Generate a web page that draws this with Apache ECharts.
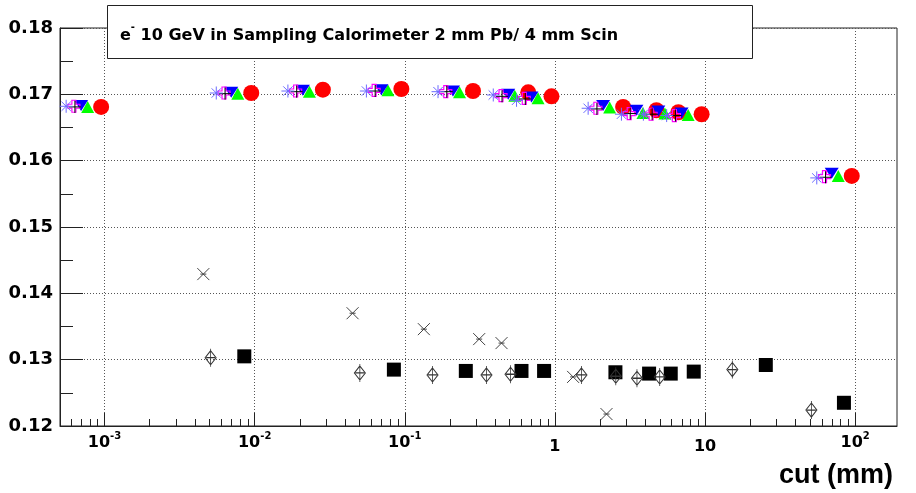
<!DOCTYPE html>
<html>
<head>
<meta charset="utf-8">
<script src="https://cdn.jsdelivr.net/npm/echarts@6/dist/echarts.min.js"></script>
<style>
html,body{margin:0;padding:0;background:#fff;}
#chart{width:916px;height:493px;}
</style>
</head>
<body>
<div id="chart"></div>
<script>
// ---------- data ----------
const titleText = ['e', '-', ' 10 GeV in Sampling Calorimeter 2 mm Pb/ 4 mm Scin'];
const xAxisTitle = 'cut (mm)';

const xMajorTicks = [0.001, 0.01, 0.1, 1, 10, 100];
const xTickLabels = ['10{s|-3}', '10{s|-2}', '10{s|-1}', '{b|1}', '{b|10}', '10{s|2}'];
const yTicks = [0.12, 0.13, 0.14, 0.15, 0.16, 0.17, 0.18];

// upper group (six series)
const xStar    = [0.000555, 0.00555, 0.01665, 0.0555, 0.1665, 0.3885, 0.555, 1.665, 2.775, 3.885, 5.55, 55.5];
const yStar    = [0.1682, 0.1702, 0.1705, 0.1705, 0.1704, 0.1699, 0.1691, 0.1679, 0.1670, 0.1670, 0.1668, 0.1574];
const xPlus    = [0.000635, 0.00635, 0.01905, 0.0635, 0.1905, 0.4445, 0.635, 1.905, 3.175, 4.445, 6.35, 63.5];
const yPlus    = [0.1681, 0.1701, 0.1704, 0.1705, 0.1704, 0.1697, 0.1693, 0.1678, 0.1671, 0.1670, 0.1668, 0.1575];
const xOpenX   = [0.000625, 0.00625, 0.01875, 0.0625, 0.1875, 0.4375, 0.625, 1.875, 3.125, 4.375, 6.25, 62.5];
const yOpenX   = [0.1682, 0.1702, 0.1705, 0.1706, 0.1704, 0.1698, 0.1694, 0.1679, 0.1671, 0.1670, 0.1668, 0.1576];
const xBlue    = [0.000698, 0.00698, 0.02094, 0.0698, 0.2094, 0.4886, 0.698, 2.094, 3.49, 4.886, 6.98, 69.8];
const yBlue    = [0.1683, 0.1703, 0.1706, 0.1707, 0.1705, 0.1700, 0.1696, 0.1683, 0.1676, 0.1675, 0.1672, 0.1581];
const xGreen   = [0.000772, 0.00772, 0.02316, 0.0772, 0.2316, 0.5404, 0.772, 2.316, 3.86, 5.404, 7.72, 77.2];
const yGreen   = [0.1681, 0.1701, 0.1704, 0.1706, 0.1703, 0.1698, 0.1694, 0.1680, 0.1672, 0.1671, 0.1669, 0.1577];
const xRed     = [0.000949, 0.00949, 0.02847, 0.0949, 0.2847, 0.6643, 0.949, 2.847, 4.745, 6.643, 9.49, 94.9];
const yRed     = [0.1681, 0.1702, 0.1707, 0.1708, 0.1705, 0.1703, 0.1697, 0.1681, 0.1676, 0.1673, 0.1670, 0.1577];

// lower group (three series)
const xCross   = [0.00455, 0.0449, 0.134, 0.313, 0.441, 1.322, 2.206];
const yCross   = [0.1429, 0.1370, 0.1346, 0.1331, 0.1325, 0.1274, 0.1218];
const xDiamond = [0.00509, 0.0502, 0.153, 0.350, 0.506, 1.503, 2.544, 3.52, 4.99, 15.2, 51.1];
const yDiamond = [0.1303, 0.1280, 0.1277, 0.1277, 0.1278, 0.1277, 0.1275, 0.1272, 0.1274, 0.1285, 0.1224];
const xSquare  = [0.00853, 0.0846, 0.255, 0.599, 0.847, 2.53, 4.24, 5.91, 8.41, 25.4, 84.2];
const ySquare  = [0.1305, 0.1285, 0.1283, 0.1283, 0.1283, 0.1281, 0.1279, 0.1279, 0.1282, 0.1292, 0.1235];

// ---------- build ----------
const pairs = (xs, ys) => xs.map((x, i) => [x, ys[i]]);
const X_MIN = 5.05e-4, X_MAX = 190;
const minorTicks = [];
[-4, -3, -2, -1, 0, 1, 2].forEach(e => {
  for (let m = 2; m <= 9; m++) {
    const v = m * Math.pow(10, e);
    if (v > X_MIN && v < X_MAX) minorTicks.push(v);
  }
});

const FONT = 'Liberation Sans';
const WFONT = 'DejaVu Sans';
const chart = echarts.init(document.getElementById('chart'), null, {renderer: 'canvas'});

function sc(name, data, symbol, size, fill, stroke, bw, rot) {
  return {
    name, type: 'scatter', data, symbol, symbolSize: size, symbolRotate: rot || 0,
    xAxisIndex: 0, yAxisIndex: 0,
    itemStyle: {color: fill, borderColor: stroke, borderWidth: bw, opacity: 1},
    emphasis: {disabled: true}, silent: true
  };
}

const option = {
  animation: false,
  backgroundColor: '#fff',
  grid: {
    left: 60, right: 19, top: 28, bottom: 67,
    show: true, borderColor: '#222', borderWidth: 1, backgroundColor: '#fff',
    containLabel: false, outerBoundsMode: 'none'
  },
  xAxis: [
    {
      type: 'log', logBase: 10, min: X_MIN, max: X_MAX, position: 'bottom',
      axisLine: {show: true, onZero: false, lineStyle: {color: '#222', width: 1}},
      axisTick: {show: true, inside: true, length: 13, customValues: xMajorTicks, lineStyle: {color: '#222', width: 1}},
      axisLabel: {
        show: true, margin: 5, customValues: xMajorTicks,
        formatter: (v) => xTickLabels[Math.round(Math.log10(v)) + 3],
        color: '#000', fontFamily: WFONT, fontWeight: 'bold', fontSize: 16, lineHeight: 24,
        rich: {
          b: {fontFamily: WFONT, fontWeight: 'bold', fontSize: 16, lineHeight: 24, verticalAlign: 'bottom', color: '#000'},
          s: {fontFamily: WFONT, fontWeight: 'bold', fontSize: 10, lineHeight: 24, verticalAlign: 'top', color: '#000'}
        }
      },
      splitLine: {show: true, lineStyle: {color: '#555', width: 1, type: [1, 2]}},
      minorTick: {show: false}
    },
    {
      type: 'log', logBase: 10, min: X_MIN, max: X_MAX, position: 'bottom',
      axisLine: {show: false},
      axisTick: {show: true, inside: true, length: 7, customValues: minorTicks, lineStyle: {color: '#222', width: 1}},
      axisLabel: {show: false},
      splitLine: {show: false}
    }
  ],
  yAxis: {
    type: 'value', min: 0.12, max: 0.18, interval: 0.01,
    axisLine: {show: true, onZero: false, lineStyle: {color: '#222', width: 1}},
    axisTick: {show: true, inside: true, length: 23, lineStyle: {color: '#222', width: 1}},
    minorTick: {show: true, splitNumber: 2, length: 13, lineStyle: {color: '#222', width: 1}},
    axisLabel: {
      margin: 7, color: '#000', fontFamily: WFONT, fontWeight: 'bold', fontSize: 18,
      formatter: (v) => {
        const k = yTicks.findIndex(t => Math.abs(t - v) < 1e-6);
        return k >= 0 ? yTicks[k].toFixed(2) : '';
      }
    },
    splitLine: {show: true, lineStyle: {color: '#555', width: 1, type: [1, 2]}}
  },
  series: [
    sc('squares', pairs(xSquare, ySquare), 'rect', 14, '#000', '#000', 0),
    sc('diamonds', pairs(xDiamond, yDiamond),
       'path://M0,-7 L5,0 L0,7 L-5,0 Z M0,-9 L0,9 M-4,0 L4,0', [11, 18], 'transparent', '#333', 1),
    sc('crosses', pairs(xCross, yCross),
       'path://M-6,-6 L6,6 M-6,6 L6,-6 M-3,0 L3,0', 12, 'transparent', '#444', 1),
    sc('red', pairs(xRed, yRed), 'circle', 16, '#ff0000', '#ff0000', 0),
    sc('green', pairs(xGreen, yGreen), 'triangle', [13, 12], '#00ff00', '#00ff00', 0),
    sc('blue', pairs(xBlue, yBlue), 'triangle', [14, 11], '#0000ff', '#0000ff', 0, 180),
    sc('openx', pairs(xOpenX, yOpenX),
       'path://M-2,-6 L2,-6 L2,-2 L6,-2 L6,2 L2,2 L2,6 L-2,6 L-2,2 L-6,2 L-6,-2 L-2,-2 Z', 12, 'transparent', '#ff00ff', 1.2),
    sc('plus', pairs(xPlus, yPlus), 'path://M0,-6 L0,6 M-6,0 L6,0', 12, 'transparent', '#000', 1),
    sc('star', pairs(xStar, yStar),
       'path://M0,-6 L0,6 M-6,0 L6,0 M-4.3,-4.3 L4.3,4.3 M-4.3,4.3 L4.3,-4.3', 13, 'transparent', '#6b6bff', 1)
  ],
  graphic: [
    {
      type: 'rect', z: 100,
      shape: {x: 107.5, y: 5.5, width: 645, height: 53},
      style: {fill: '#fff', stroke: '#222', lineWidth: 1}
    },
    {
      type: 'text', z: 101, x: 120, y: 33,
      style: {
        text: '{b|' + titleText[0] + '}{s|' + titleText[1] + '}{b|' + titleText[2] + '}',
        textVerticalAlign: 'middle',
        rich: {
          b: {fontFamily: WFONT, fontWeight: 'bold', fontSize: 16, lineHeight: 22, verticalAlign: 'bottom', fill: '#000'},
          s: {fontFamily: WFONT, fontWeight: 'bold', fontSize: 10, lineHeight: 22, verticalAlign: 'top', fill: '#000'}
        }
      }
    },
    {
      type: 'text', z: 101, x: 893, y: 476,
      style: {
        text: xAxisTitle, fontFamily: FONT, fontWeight: 'bold', fontSize: 27,
        textAlign: 'right', textVerticalAlign: 'middle', fill: '#000'
      }
    }
  ]
};
chart.setOption(option);
</script>
</body>
</html>
